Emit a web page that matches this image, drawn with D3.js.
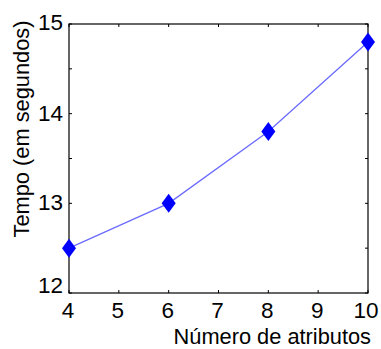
<!DOCTYPE html>
<html>
<head>
<meta charset="utf-8">
<script src="https://cdn.jsdelivr.net/npm/d3@7"></script>
<style>
  body { margin: 0; background: #fff; }
  svg text { font-family: "Liberation Sans", Arial, sans-serif; fill: #000; }
</style>
</head>
<body>
<div id="root"></div>
<script>
const width = 381;
const height = 349;

// data
const atributos = [4, 6, 8, 10];
const tempo = [12.5, 13.0, 13.8, 14.8];
const xTicks = [4, 5, 6, 7, 8, 9, 10];
const yTicks = [12, 13, 14, 15];
const yMinor = [12, 12.5, 13, 13.5, 14, 14.5, 15];

const margin = { top: 24, right: 13, bottom: 56, left: 69 };
const w = width - margin.left - margin.right;
const h = height - margin.top - margin.bottom;

const svg = d3.select("#root")
    .append("svg")
    .attr("width", width)
    .attr("height", height);

const g = svg.append("g")
    .attr("transform", `translate(${margin.left},${margin.top})`);

const x = d3.scaleLinear().domain([4, 10]).range([0, w]);
const y = d3.scaleLinear().domain([12, 15]).range([h, 0]);

// box
g.append("rect")
    .attr("width", w)
    .attr("height", h)
    .attr("fill", "none")
    .attr("stroke", "#000")
    .attr("stroke-width", 1.2);

// inward ticks, all four sides
const tl = 3;
g.selectAll(".xt")
    .data(xTicks)
    .join("path")
    .attr("d", d => `M${x(d)},${h}v${-tl}M${x(d)},0v${tl}`)
    .attr("stroke", "#000");

g.selectAll(".yt")
    .data(yMinor)
    .join("path")
    .attr("d", d => `M0,${y(d)}h${tl}M${w},${y(d)}h${-tl}`)
    .attr("stroke", "#000");

// tick labels
g.selectAll(".xl")
    .data(xTicks)
    .join("text")
    .attr("x", d => x(d) - (d === 10 ? 2 : 1))
    .attr("y", h + 25)
    .attr("text-anchor", "middle")
    .attr("font-size", 22.5)
    .text(d => d);

g.selectAll(".yl")
    .data(yTicks)
    .join("text")
    .attr("x", -6)
    .attr("y", d => y(d) + (d === 12 ? 0 : d === 15 ? 6 : 7))
    .attr("text-anchor", "end")
    .attr("font-size", 22.5)
    .text(d => d);

// axis titles
svg.append("text")
    .attr("x", 371)
    .attr("y", 344)
    .attr("text-anchor", "end")
    .attr("font-size", 21.8)
    .text("Número de atributos");

svg.append("text")
    .attr("transform", `translate(29,129) rotate(-90)`)
    .attr("text-anchor", "middle")
    .attr("font-size", 21.8)
    .text("Tempo (em segundos)");

// line
const pts = atributos.map((a, i) => [a, tempo[i]]);
g.append("path")
    .datum(pts)
    .attr("fill", "none")
    .attr("stroke", "#6b6bff")
    .attr("stroke-width", 1.3)
    .attr("d", d3.line().x(d => x(d[0])).y(d => y(d[1])));

// diamond markers
g.selectAll(".mk")
    .data(pts)
    .join("path")
    .attr("transform", d => `translate(${x(d[0])},${y(d[1])})`)
    .attr("d", "M0,-9.5L7,0L0,9.5L-7,0Z")
    .attr("fill", "#0000ff");
</script>
</body>
</html>
